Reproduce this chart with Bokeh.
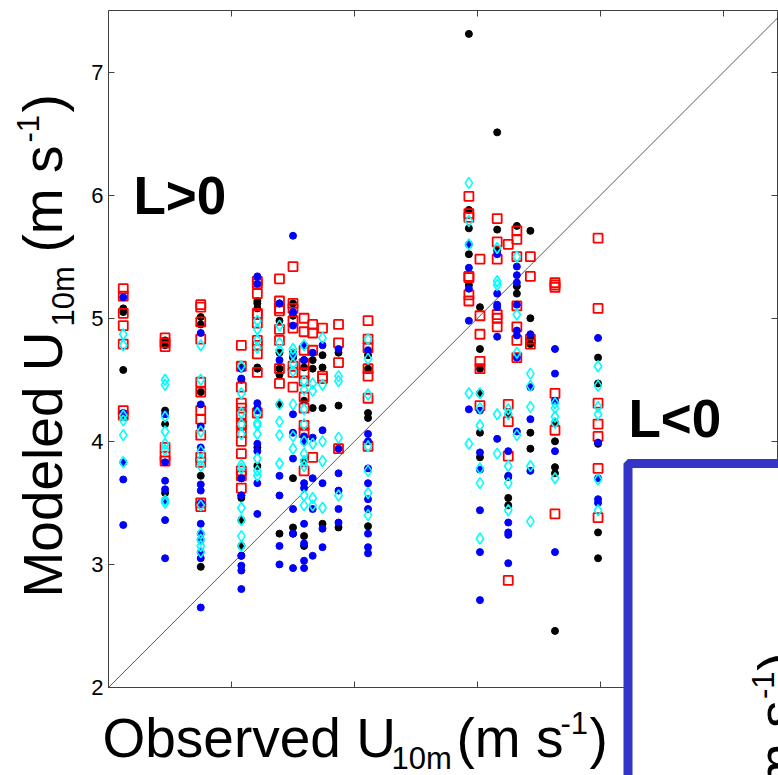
import math
from bokeh.plotting import figure
from bokeh.models import (LinearAxis, FixedTicker, BoxAnnotation, Label, ColumnDataSource,
                          CustomJSTickFormatter, Range1d)
from bokeh.embed import file_html
from bokeh.resources import INLINE

# observed wind speed of each measurement column (m s-1)
obs_cols = [2.12, 2.46, 2.75, 3.08, 3.21, 3.39, 3.50, 3.59, 3.66, 3.74,
            3.87, 4.11, 4.93, 5.02, 5.16, 5.25, 5.32, 5.43, 5.63, 5.98]

# modeled U10m for each scheme, one list per observed column
black_mod = [
    [5.08, 5.05, 4.58, 4.20],
    [4.82, 4.78, 4.25, 4.14, 3.58],
    [5.01, 4.95, 4.40, 3.72, 2.98],
    [4.60, 4.50, 3.70, 3.56, 3.54, 3.36, 3.15, 3.07],
    [5.14, 5.12, 5.08, 4.60, 4.59, 3.95, 3.80],
    [5.12, 4.98, 4.72, 4.59, 4.54, 4.30, 3.25],
    [5.12, 5.02, 4.72, 4.68, 3.70, 3.30, 3.25],
    [4.66, 4.60, 4.33, 3.84, 3.23, 3.15],
    [4.66, 4.59, 4.27],
    [4.70, 4.60, 4.27, 3.33],
    [4.72, 4.29, 3.30],
    [4.70, 4.59, 4.23, 4.19, 3.31],
    [7.31, 5.88, 5.73, 5.52, 5.27],
    [5.09, 4.75, 4.59, 4.39, 4.07, 3.87],
    [6.51, 5.72, 5.55],
    [4.22, 3.71, 3.54, 3.48],
    [5.75, 5.26, 5.20],
    [5.71, 5.00, 4.84, 4.79, 4.07, 3.94],
    [4.15, 4.00, 3.79, 3.74, 2.46],
    [4.68, 4.47, 3.98, 3.26, 3.05],
]

blue_mod = [
    [5.17, 4.23, 3.83, 3.69, 3.32],
    [4.22, 3.83, 3.68, 3.61, 3.52, 3.36, 3.05],
    [4.88, 4.30, 4.12, 3.95, 3.65, 3.60, 3.50, 3.33, 3.25, 3.20, 3.10, 3.05, 2.65],
    [4.59, 4.51, 3.70, 3.56, 3.07, 2.99, 2.95, 2.80],
    [5.34, 5.28, 4.31, 4.27, 4.25, 3.98, 3.92, 3.66, 3.41],
    [5.12, 4.66, 3.72, 3.56, 3.15, 3.00],
    [5.67, 5.05, 4.94, 4.70, 4.22, 4.07, 3.86, 3.45, 3.25, 2.97],
    [4.78, 4.66, 4.04, 4.00, 3.66, 3.62, 3.33, 3.17, 3.03, 2.97],
    [4.72, 4.03, 3.70, 3.45, 3.07],
    [4.78, 4.09, 3.66, 3.29, 3.14],
    [4.75, 3.94, 3.74, 3.60, 3.45, 3.34],
    [4.74, 4.06, 4.00, 3.78, 3.66, 3.53, 3.45, 3.25, 3.14, 3.09],
    [5.60, 5.41, 5.24, 4.98, 4.26],
    [4.25, 3.91, 3.77, 3.44, 3.10, 2.71],
    [5.52, 5.20, 5.11, 5.09, 4.85, 4.02],
    [3.92, 3.72, 3.34, 3.26, 3.24, 3.01],
    [5.42, 5.35, 5.29, 5.11, 4.90, 4.86, 4.68, 4.08],
    [4.87, 4.44, 4.18, 3.76],
    [4.75, 4.55, 4.33, 3.92, 3.10],
    [4.84, 3.99, 3.70, 3.53, 3.50],
]

cyan_mod = [
    [4.87, 4.78, 4.21, 4.17, 4.05, 3.83],
    [4.50, 4.46, 4.20, 4.08, 3.98, 3.93, 3.52, 3.50],
    [4.78, 4.50, 4.08, 3.92, 3.85, 3.80, 3.48, 3.25, 3.20, 3.15, 3.10],
    [4.61, 4.39, 4.23, 4.14, 4.06, 3.81, 3.78, 3.46, 3.36, 3.23, 3.15],
    [4.98, 4.91, 4.82, 4.76, 4.23, 4.15, 4.13, 4.06, 3.86, 3.76, 3.72],
    [4.94, 4.80, 4.74, 4.30, 4.16, 4.05, 3.82],
    [4.75, 4.71, 4.63, 4.57, 4.30, 4.04, 3.94],
    [4.78, 4.49, 4.42, 4.26, 4.14, 4.00, 3.90, 3.84, 3.80, 3.56, 3.48],
    [4.47, 4.41, 3.98, 3.54, 3.48],
    [4.84, 4.46, 4.00, 3.84, 3.46],
    [4.53, 4.49, 4.03, 3.56],
    [4.83, 4.67, 4.38, 3.96, 3.76, 3.58, 3.40],
    [6.10, 5.79, 5.60, 4.39, 3.98],
    [4.39, 4.27, 4.13, 3.78, 3.66, 3.21],
    [5.57, 5.30, 5.27, 4.22, 3.90],
    [4.26, 4.22, 3.80, 3.66, 3.44],
    [5.50, 5.03, 4.72, 4.05],
    [4.55, 4.45, 4.28, 3.80, 3.35],
    [4.31, 4.27, 4.20, 4.15, 3.70],
    [4.61, 4.45, 4.28, 4.22, 3.69, 3.44],
]

red_mod = [
    [5.24, 5.18, 5.04, 4.94, 4.79, 4.25, 4.21],
    [4.84, 4.80, 4.77, 3.95, 3.88, 3.84],
    [5.11, 5.09, 4.97, 4.83, 4.48, 4.40, 4.25, 4.18, 4.05, 3.87, 3.83, 3.50, 3.47],
    [4.78, 4.61, 4.44, 4.31, 4.27, 4.22, 4.14, 4.13, 4.07, 4.00, 3.90, 3.76, 3.72, 3.62],
    [5.30, 5.28, 5.20, 5.04, 5.03, 4.96, 4.82, 4.78, 4.71, 4.56, 4.23],
    [5.32, 5.14, 5.08, 5.06, 4.91, 4.82, 4.59, 4.47],
    [5.42, 5.12, 5.08, 4.98, 4.92, 4.61, 4.56, 4.44],
    [5.00, 4.89, 4.74, 4.63, 4.55, 4.49, 4.36, 4.27, 4.13, 4.07, 3.76],
    [4.95, 4.88, 4.74, 3.87],
    [4.92, 4.53, 4.51],
    [4.95, 4.80, 4.64, 3.94],
    [4.98, 4.83, 4.76, 4.59, 4.53, 4.35, 3.96],
    [5.99, 5.85, 5.82, 5.34, 5.33, 5.19, 5.14],
    [5.48, 5.02, 4.87, 4.65, 4.59, 4.29],
    [5.81, 5.62, 5.48, 5.03, 5.00, 4.93],
    [5.60, 4.30, 4.16, 3.88, 2.87],
    [5.71, 5.64, 5.50, 5.10, 4.93, 4.82, 4.68],
    [5.50, 5.34, 4.83, 4.79],
    [5.29, 5.27, 5.25, 4.39, 4.09, 3.41],
    [5.65, 5.08, 4.31, 4.14, 4.04, 3.78, 3.38],
]

y_ticks = [2, 3, 4, 5, 6, 7]
x_ticks = [2, 3, 4, 5, 6, 7]
X_MIN, X_MAX = 2.0, 7.44
Y_MIN, Y_MAX = 2.0, 7.5

FONT = "Liberation Sans"
AXIS_COLOR = "#404040"
W, H = 778, 775


# pixel <-> data helpers: the data box spans 108..777 px across and 10..687 px down
def dx(px):
    return X_MIN + (px - 108) / 123.0


def dy(py):
    return Y_MIN + (687 - py) / 123.09


def flatten(mod):
    xs, ys = [], []
    for xo, col in zip(obs_cols, mod):
        for v in col:
            xs.append(xo)
            ys.append(v)
    return ColumnDataSource(data=dict(x=xs, y=ys))


p = figure(width=W, height=H,
           x_range=Range1d(dx(0), dx(W)), y_range=Range1d(dy(H), dy(0)),
           output_backend="svg", toolbar_location=None,
           min_border=0, x_axis_location=None, y_axis_location=None)
p.grid.visible = False
p.outline_line_color = None
p.background_fill_color = "white"
p.border_fill_color = "white"

no_labels = CustomJSTickFormatter(code="return ''")


def make_axis(ticks, loc, bounds, show_labels):
    ax = LinearAxis(ticker=FixedTicker(ticks=ticks, minor_ticks=[]),
                    fixed_location=loc, bounds=bounds,
                    axis_line_color=AXIS_COLOR, major_tick_line_color=AXIS_COLOR,
                    major_tick_in=6, major_tick_out=0, minor_tick_in=0, minor_tick_out=0)
    if show_labels:
        ax.major_label_text_font = FONT
        ax.major_label_text_font_size = "22px"
        ax.major_label_text_color = "black"
        ax.major_label_standoff = 5
    else:
        ax.formatter = no_labels
        ax.major_label_text_font_size = "0px"
        ax.major_label_standoff = 0
    return ax


p.add_layout(make_axis(y_ticks, X_MIN, (Y_MIN, Y_MAX), True), "left")
p.add_layout(make_axis(x_ticks, Y_MIN, (X_MIN, X_MAX), False), "below")
p.add_layout(make_axis(x_ticks, Y_MAX, (X_MIN, X_MAX), False), "above")
p.add_layout(make_axis(y_ticks, X_MAX, (Y_MIN, Y_MAX), False), "right")

# 1:1 line
p.line(x=[X_MIN, X_MAX], y=[X_MIN, X_MAX], line_color="#303030", line_width=0.8)

# model schemes
p.scatter("x", "y", source=flatten(black_mod), marker="circle", size=7,
          fill_color="black", line_color="black")
p.scatter("x", "y", source=flatten(red_mod), marker="square", size=9,
          fill_color=None, line_color="#ff0000", line_width=1.8)
p.scatter("x", "y", source=flatten(blue_mod), marker="circle", size=7,
          fill_color="#0000ff", line_color="#0000ff")
p.scatter("x", "y", source=flatten(cyan_mod), marker="diamond", size=11,
          fill_color=None, line_color="#00ffff", line_width=1.6)

BASE_SHIFT = 0.36  # baseline correction, in em


def lab(px, py, text, size, angle=0.0, bold=False, align="left"):
    # (px, py): start of the text on its baseline, in canvas pixels
    if angle == 0.0:
        py = py - BASE_SHIFT * size
    else:
        px = px - BASE_SHIFT * size
    p.add_layout(Label(x=dx(px), y=dy(py), text=text, angle=angle,
                       text_font=FONT, text_font_size=f"{size}px",
                       text_font_style="bold" if bold else "normal",
                       text_color="black", text_align=align,
                       text_baseline="alphabetic"))


lab(133, 214, "L>0", 53, bold=True)
lab(628, 437, "L<0", 53, bold=True)

# x-axis title: Observed U_10m (m s^-1)
BIG, SMALL = 55, 31
lab(102, 757, "Observed U", BIG)
lab(391, 769, "10m", SMALL)
lab(456, 757, "(m s", BIG)
lab(560, 734, "-1", SMALL)
lab(589, 757, ")", BIG)

# y-axis title, rotated
up = math.pi / 2
lab(62, 597, "Modeled U", BIG, angle=up)
lab(74, 326, "10m", SMALL, angle=up)
lab(62, 252, "(m s", BIG, angle=up)
lab(39, 142, "-1", SMALL, angle=up)
lab(62, 112, ")", BIG, angle=up)

# neighbouring panel frame
p.add_layout(BoxAnnotation(left=dx(627.5), right=dx(950), top=dy(463), bottom=dy(950),
                           fill_color="white", fill_alpha=1.0,
                           line_color="#3434c8", line_width=9, line_alpha=1.0))

# neighbouring panel y-axis title (tail end)
lab(797, 652, ")", BIG, angle=up, align="right")
lab(774, 671, "-1", SMALL, angle=up, align="right")
lab(797, 700, "(m s", BIG, angle=up, align="right")

open("out.html", "w").write(file_html(p, INLINE))
